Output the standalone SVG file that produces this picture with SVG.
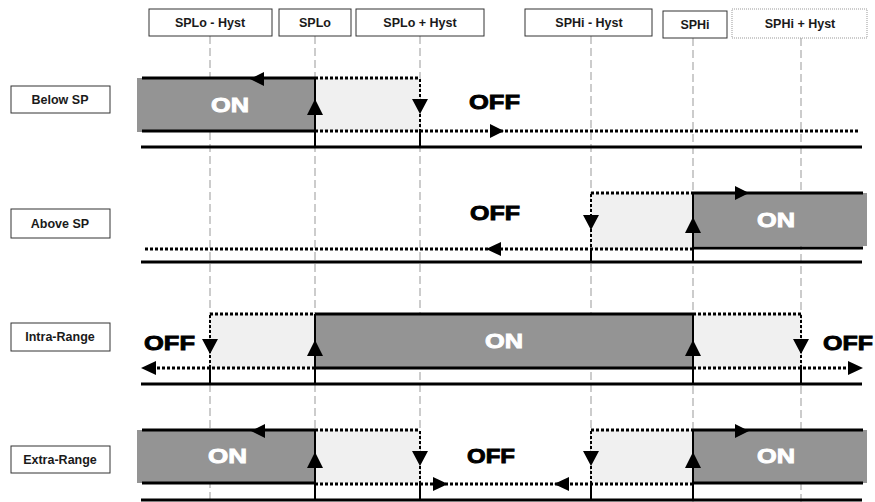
<svg xmlns="http://www.w3.org/2000/svg" width="875" height="502" viewBox="0 0 875 502">
<defs>
<style>
.box{fill:#fff;stroke:#333;stroke-width:1}
.boxd{fill:#fff;stroke:#999;stroke-width:1;stroke-dasharray:1 1}
.lbl{font-family:"Liberation Sans",Arial,sans-serif;font-weight:bold;font-size:12.5px;fill:#1a1a1a;text-anchor:middle}
.big{font-family:"Liberation Sans",Arial,sans-serif;font-weight:bold;font-size:21px;stroke-width:0.9}
.on{fill:#fff;stroke:#fff}
.off{fill:#000;stroke:#000}
.dark{fill:#949494}
.light{fill:#f0f0f0}
.grid{stroke:#999;stroke-width:1;stroke-dasharray:8 4;fill:none}
.sol{stroke:#000;stroke-width:3;fill:none}
.dot{stroke:#000;stroke-width:3;stroke-dasharray:3 2;fill:none}
.vs{stroke:#000;stroke-width:2;fill:none}
.vd{stroke:#000;stroke-width:2;stroke-dasharray:3 2;fill:none}
.ah{fill:#000}
</style>
</defs>
<rect width="875" height="502" fill="#fff"/>

<g id="guides">
<line class="grid" x1="210" y1="36" x2="210" y2="502"/>
<line class="grid" x1="315" y1="36" x2="315" y2="502"/>
<line class="grid" x1="420" y1="36" x2="420" y2="502"/>
<line class="grid" x1="591" y1="36" x2="591" y2="502"/>
<line class="grid" x1="693" y1="38" x2="693" y2="502"/>
<line class="grid" x1="801" y1="38" x2="801" y2="502"/>
</g>

<g id="hdr-splo-hyst"><rect class="box" x="149" y="9" width="123" height="27"/><text class="lbl" x="210" y="27">SPLo - Hyst</text></g>
<g id="hdr-splo"><rect class="box" x="279" y="9" width="72" height="27"/><text class="lbl" x="315" y="27">SPLo</text></g>
<g id="hdr-splo-plus"><rect class="box" x="356" y="9" width="128" height="27"/><text class="lbl" x="420" y="27">SPLo + Hyst</text></g>
<g id="hdr-sphi-hyst"><rect class="box" x="525" y="9" width="127" height="27"/><text class="lbl" x="589" y="27">SPHi - Hyst</text></g>
<g id="hdr-sphi"><rect class="box" x="663" y="11" width="64" height="27"/><text class="lbl" x="695" y="29">SPHi</text></g>
<g id="hdr-sphi-plus"><rect class="boxd" x="732" y="9" width="135" height="29"/><text class="lbl" x="800" y="28">SPHi + Hyst</text></g>

<g id="row-below"><rect class="box" x="11" y="86" width="99" height="27"/><text class="lbl" x="60" y="104">Below SP</text></g>
<g id="row-above"><rect class="box" x="11" y="209" width="99" height="29"/><text class="lbl" x="60" y="228">Above SP</text></g>
<g id="row-intra"><rect class="box" x="11" y="323" width="99" height="28"/><text class="lbl" x="60" y="341">Intra-Range</text></g>
<g id="row-extra"><rect class="box" x="11" y="446" width="99" height="27"/><text class="lbl" x="60" y="464">Extra-Range</text></g>

<g id="fills">
<rect class="dark" x="137" y="78" width="178" height="54"/>
<rect class="light" x="315" y="78" width="105" height="53"/>
<rect class="light" x="591" y="193" width="102" height="56"/>
<rect class="dark" x="693" y="193" width="174" height="53"/>
<rect class="light" x="210" y="314" width="105" height="54"/>
<rect class="dark" x="315" y="314" width="378" height="54"/>
<rect class="light" x="693" y="314" width="108" height="54"/>
<rect class="dark" x="137" y="430" width="178" height="53"/>
<rect class="light" x="315" y="430" width="105" height="53"/>
<rect class="light" x="591" y="430" width="102" height="53"/>
<rect class="dark" x="693" y="430" width="174" height="53"/>
</g>

<g id="connectors">
<!-- row 1 -->
<line class="sol" x1="142" y1="78" x2="315" y2="78"/>
<line class="sol" x1="142" y1="131" x2="315" y2="131"/>
<line class="dot" x1="315" y1="78" x2="420" y2="78"/>
<line class="dot" x1="315" y1="131" x2="860" y2="131"/>
<line class="sol" x1="141" y1="147" x2="862" y2="147"/>
<line class="vs" x1="315" y1="78" x2="315" y2="147"/>
<line class="vd" x1="420" y1="79" x2="420" y2="131"/>
<line class="vs" x1="420" y1="131" x2="420" y2="147"/>
<polygon class="ah" points="250,79 264,72 264,86"/>
<polygon class="ah" points="504,131 490,124 490,138"/>
<polygon class="ah" points="315,99 307,115 323,115"/>
<polygon class="ah" points="420,114 412,99 428,99"/>
<!-- row 2 -->
<line class="dot" x1="145" y1="249" x2="693" y2="249"/>
<line class="dot" x1="591" y1="193" x2="693" y2="193"/>
<line class="sol" x1="693" y1="193" x2="863" y2="193"/>
<line class="sol" x1="693" y1="248" x2="863" y2="248"/>
<line class="sol" x1="141" y1="262" x2="862" y2="262"/>
<line class="vd" x1="591" y1="194" x2="591" y2="249"/>
<line class="vs" x1="591" y1="249" x2="591" y2="262"/>
<line class="vs" x1="693" y1="193" x2="693" y2="262"/>
<polygon class="ah" points="486,249 501,242 501,256"/>
<polygon class="ah" points="749,193 735,186 735,200"/>
<polygon class="ah" points="591,230 583,215 599,215"/>
<polygon class="ah" points="693,217 685,233 701,233"/>
<!-- row 3 -->
<line class="dot" x1="210" y1="314" x2="315" y2="314"/>
<line class="sol" x1="315" y1="314" x2="693" y2="314"/>
<line class="dot" x1="693" y1="314" x2="801" y2="314"/>
<line class="dot" x1="152" y1="368" x2="315" y2="368"/>
<line class="sol" x1="315" y1="368" x2="693" y2="368"/>
<line class="dot" x1="693" y1="368" x2="852" y2="368"/>
<line class="sol" x1="141" y1="384" x2="862" y2="384"/>
<line class="vd" x1="210" y1="315" x2="210" y2="368"/>
<line class="vs" x1="210" y1="368" x2="210" y2="384"/>
<line class="vs" x1="315" y1="314" x2="315" y2="384"/>
<line class="vs" x1="693" y1="314" x2="693" y2="384"/>
<line class="vd" x1="801" y1="315" x2="801" y2="368"/>
<line class="vs" x1="801" y1="368" x2="801" y2="384"/>
<polygon class="ah" points="141,368 156,361 156,375"/>
<polygon class="ah" points="863,368 848,361 848,375"/>
<polygon class="ah" points="210,354 202,339 218,339"/>
<polygon class="ah" points="801,354 793,339 809,339"/>
<polygon class="ah" points="315,340 307,356 323,356"/>
<polygon class="ah" points="693,340 685,356 701,356"/>
<!-- row 4 -->
<line class="sol" x1="142" y1="430" x2="315" y2="430"/>
<line class="sol" x1="142" y1="483" x2="315" y2="483"/>
<line class="dot" x1="315" y1="430" x2="420" y2="430"/>
<line class="dot" x1="315" y1="484" x2="693" y2="484"/>
<line class="dot" x1="591" y1="430" x2="693" y2="430"/>
<line class="sol" x1="693" y1="430" x2="863" y2="430"/>
<line class="sol" x1="693" y1="483" x2="863" y2="483"/>
<line class="sol" x1="141" y1="500" x2="862" y2="500"/>
<line class="vs" x1="315" y1="430" x2="315" y2="500"/>
<line class="vd" x1="420" y1="431" x2="420" y2="484"/>
<line class="vs" x1="420" y1="484" x2="420" y2="500"/>
<line class="vd" x1="591" y1="431" x2="591" y2="484"/>
<line class="vs" x1="591" y1="484" x2="591" y2="500"/>
<line class="vs" x1="693" y1="430" x2="693" y2="500"/>
<polygon class="ah" points="251,431 265,424 265,438"/>
<polygon class="ah" points="749,431 735,424 735,438"/>
<polygon class="ah" points="448,484 433,477 433,491"/>
<polygon class="ah" points="554,484 569,477 569,491"/>
<polygon class="ah" points="315,452 307,468 323,468"/>
<polygon class="ah" points="693,452 685,468 701,468"/>
<polygon class="ah" points="420,466 412,451 428,451"/>
<polygon class="ah" points="591,466 583,451 599,451"/>
</g>

<g id="state-labels">
<text class="big on" x="211" y="112" textLength="38" lengthAdjust="spacingAndGlyphs">ON</text>
<text class="big off" x="469" y="109" textLength="51" lengthAdjust="spacingAndGlyphs">OFF</text>
<text class="big off" x="470" y="220" textLength="50" lengthAdjust="spacingAndGlyphs">OFF</text>
<text class="big on" x="757" y="227" textLength="38" lengthAdjust="spacingAndGlyphs">ON</text>
<text class="big off" x="144" y="350" textLength="51" lengthAdjust="spacingAndGlyphs">OFF</text>
<text class="big on" x="485" y="348" textLength="38" lengthAdjust="spacingAndGlyphs">ON</text>
<text class="big off" x="823" y="350" textLength="50" lengthAdjust="spacingAndGlyphs">OFF</text>
<text class="big on" x="208" y="463" textLength="39" lengthAdjust="spacingAndGlyphs">ON</text>
<text class="big off" x="467" y="463" textLength="48" lengthAdjust="spacingAndGlyphs">OFF</text>
<text class="big on" x="757" y="463" textLength="38" lengthAdjust="spacingAndGlyphs">ON</text>
</g>
</svg>
